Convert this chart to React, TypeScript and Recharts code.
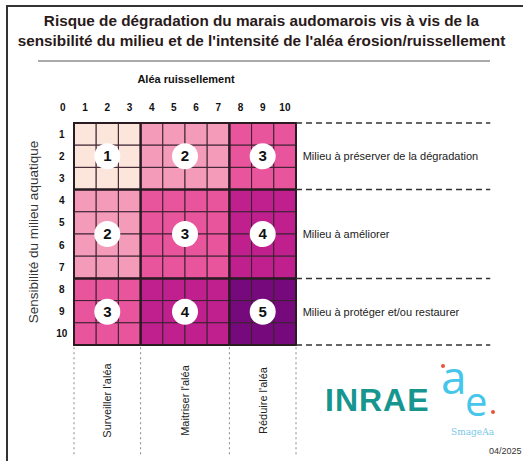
import { ScatterChart, Scatter, XAxis, YAxis, ReferenceArea, ReferenceLine } from 'recharts';

// Matrix: columns = aléa ruissellement (1..10), rows = sensibilité du milieu (1..10)
const xTickLabels = ['0', '1', '2', '3', '4', '5', '6', '7', '8', '9', '10'];
const yTickLabels = ['1', '2', '3', '4', '5', '6', '7', '8', '9', '10'];
const bandEdges = [0, 3, 7, 10]; // class limits on both axes
const blockLevels = [
  [1, 2, 3],
  [2, 3, 4],
  [3, 4, 5],
];
const levelColors = ['#fce6dc', '#f59bba', '#e9559c', '#c01f8e', '#76097c'];
const zoneLabels = [
  'Milieu à préserver de la dégradation',
  'Milieu à améliorer',
  'Milieu à protéger et/ou restaurer',
];
const actionLabels = ["Surveiller l'aléa", "Maitriser l'aléa", "Réduire l'aléa"];

const FONT = "'Liberation Sans', Arial, sans-serif";
const DARK = '#2a1a22';

const bandOf = (i: number) => (i <= 3 ? 0 : i <= 7 ? 1 : 2);
const bandMid = (b: number) => (bandEdges[b] + bandEdges[b + 1]) / 2;

const cells: { x: number; y: number; fill: string }[] = [];
for (let r = 1; r <= 10; r++) {
  for (let c = 1; c <= 10; c++) {
    cells.push({ x: c, y: r, fill: levelColors[blockLevels[bandOf(r)][bandOf(c)] - 1] });
  }
}

const blocks = blockLevels.flatMap((row, rb) =>
  row.map((level, cb) => ({ x: bandMid(cb), y: bandMid(rb), level, rb, cb }))
);

const xTickPts = xTickLabels.map((t, i) => ({ x: i - 0.5, y: -0.7, t }));
const yTickPts = yTickLabels.map((t, i) => ({ x: -0.55, y: i + 0.5, t }));
const zonePts = zoneLabels.map((t, i) => ({ x: 10.3, y: bandMid(i), t }));
const actionPts = actionLabels.map((t, i) => ({ x: bandMid(i), y: 12.5, t }));

const tickShape = (p: any) => (
  <text x={p.cx} y={p.cy + 3.5} textAnchor="middle" fontFamily={FONT} fontSize={10} fontWeight="bold" fill="#111">
    {p.payload.t}
  </text>
);

export default function App() {
  return (
    <div style={{ position: 'absolute', left: 0, top: 0, width: 523, height: 461, background: '#fff', overflow: 'hidden', fontFamily: FONT }}>
      <div style={{ position: 'absolute', left: 7, top: 5, width: 516, height: 2, background: '#333' }} />
      <div style={{ position: 'absolute', left: 6, top: 5, width: 2, height: 456, background: '#333' }} />
      <div style={{ position: 'absolute', left: 0, top: 11, width: 523, textAlign: 'center', fontWeight: 'bold', fontSize: 15.3, lineHeight: '20px', color: '#2a1a1a', whiteSpace: 'nowrap' }}>
        Risque de dégradation du marais audomarois vis à vis de la
        <br />
        sensibilité du milieu et de l'intensité de l'aléa érosion/ruissellement
      </div>
      <div style={{ position: 'absolute', left: 38, top: 60, width: 452, height: 2, background: '#aaa' }} />
      <div style={{ position: 'absolute', left: 86, top: 73, width: 200, textAlign: 'center', fontWeight: 'bold', fontSize: 11, color: '#111' }}>
        Aléa ruissellement
      </div>
      <div style={{ position: 'absolute', left: 34, top: 232, width: 0, height: 0 }}>
        <div style={{ position: 'absolute', left: -120, top: -8, width: 240, lineHeight: '16px', textAlign: 'center', fontSize: 13.5, color: '#333', transform: 'rotate(-90deg)', whiteSpace: 'nowrap' }}>
          Sensibilité du milieu aquatique
        </div>
      </div>

      <ScatterChart width={523} height={461} margin={{ top: 100.8, left: 51.8, right: 27.2, bottom: 5 }} style={{ position: 'absolute', left: 0, top: 0 }}>
        <XAxis type="number" dataKey="x" domain={[-1, 19]} hide allowDataOverflow />
        <YAxis type="number" dataKey="y" domain={[-1, 15]} reversed hide allowDataOverflow />

        {cells.map((c) => (
          <ReferenceArea key={`c${c.x}-${c.y}`} x1={c.x - 1} x2={c.x} y1={c.y - 1} y2={c.y} fill={c.fill} fillOpacity={1} stroke="#3a2230" strokeWidth={1} />
        ))}
        {blocks.map((b) => (
          <ReferenceArea key={`b${b.rb}-${b.cb}`} x1={bandEdges[b.cb]} x2={bandEdges[b.cb + 1]} y1={bandEdges[b.rb]} y2={bandEdges[b.rb + 1]} fill="none" stroke={DARK} strokeWidth={2} />
        ))}

        {bandEdges.map((e) => (
          <ReferenceLine key={`h${e}`} segment={[{ x: 10, y: e }, { x: 18.75, y: e }]} stroke="#333" strokeWidth={1.5} strokeDasharray="6 4" />
        ))}
        {bandEdges.map((e) => (
          <ReferenceLine key={`v${e}`} segment={[{ x: e, y: 10.1 }, { x: e, y: 14.95 }]} stroke="#888" strokeWidth={1} strokeDasharray="2 3" />
        ))}

        <Scatter data={blocks} isAnimationActive={false} shape={(p: any) => (
          <g>
            <circle cx={p.cx} cy={p.cy} r={13} fill="#fff" />
            <text x={p.cx} y={p.cy + 5} textAnchor="middle" fontFamily={FONT} fontSize={15} fontWeight="bold" fill="#111">{p.payload.level}</text>
          </g>
        )} />
        <Scatter data={xTickPts} isAnimationActive={false} shape={tickShape} />
        <Scatter data={yTickPts} isAnimationActive={false} shape={tickShape} />
        <Scatter data={zonePts} isAnimationActive={false} shape={(p: any) => (
          <text x={p.cx} y={p.cy + 4} fontFamily={FONT} fontSize={11} fill="#222">{p.payload.t}</text>
        )} />
        <Scatter data={actionPts} isAnimationActive={false} shape={(p: any) => (
          <text x={p.cx} y={p.cy + 4} transform={`rotate(-90 ${p.cx} ${p.cy})`} textAnchor="middle" fontFamily={FONT} fontSize={11} fill="#222">{p.payload.t}</text>
        )} />
      </ScatterChart>

      <div style={{ position: 'absolute', left: 325, top: 384, fontSize: 32, lineHeight: '32px', fontWeight: 'bold', color: '#17968f', letterSpacing: 1 }}>INRAE</div>
      <svg width={80} height={110} style={{ position: 'absolute', left: 436, top: 330 }}>
        <text x={5} y={64} fontSize={46} fill="#45c6ea" fontFamily="'Open Sans', sans-serif">a</text>
        <text x={29} y={86} fontSize={40} fill="#45c6ea" fontFamily="'Open Sans', sans-serif">e</text>
        <circle cx={7} cy={36} r={2} fill="#e8553a" />
        <circle cx={57} cy={82} r={2} fill="#e8553a" />
      </svg>
      <div style={{ position: 'absolute', left: 451, top: 428, fontSize: 9, lineHeight: '9px', color: '#7ac8e8', fontFamily: "'DejaVu Serif', serif" }}>SmageAa</div>
      <div style={{ position: 'absolute', left: 489, top: 446, fontSize: 9, color: '#333' }}>04/2025</div>
    </div>
  );
}
